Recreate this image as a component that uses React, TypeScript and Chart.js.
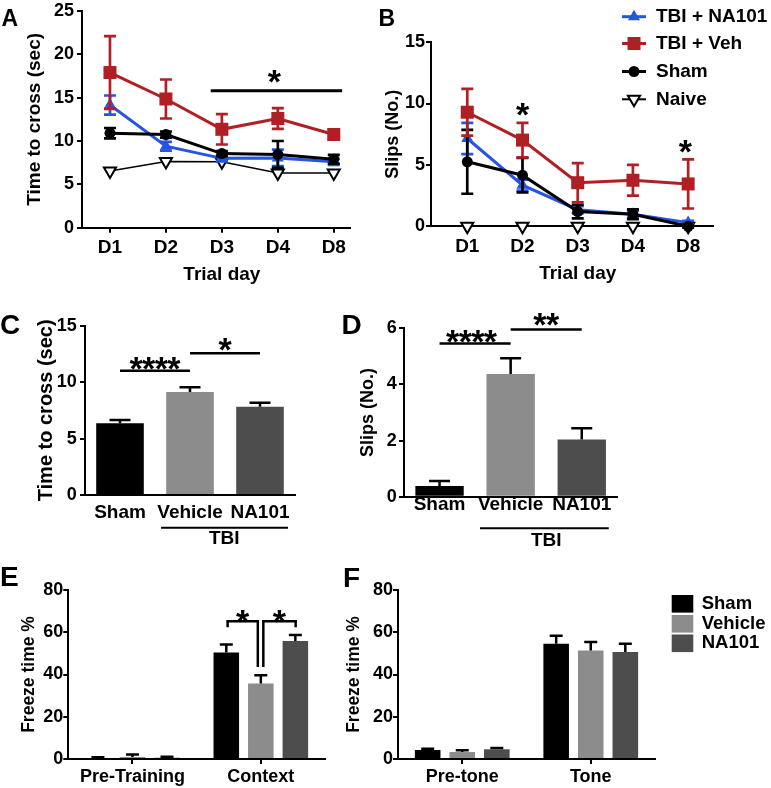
import React, { useEffect, useRef } from 'react';
import { Chart, registerables } from 'chart.js';

Chart.register(...registerables);

const FAMILY = "'Liberation Sans', Arial, Helvetica, sans-serif";
Chart.defaults.font.family = FAMILY;
Chart.defaults.font.size = 18;
Chart.defaults.font.weight = 'bold';
Chart.defaults.color = '#000';

// ---------------- data ----------------
const trialDays = ['D1', 'D2', 'D3', 'D4', 'D8'];

const crossNA101 = [14.15, 9.4, 8.0, 8.05, 7.6];
const crossNA101Err = [1.1, 0.5, 0.35, 0.95, 0.35];
const crossVeh = [17.9, 14.85, 11.35, 12.6, 10.75];
const crossVehErr = [4.2, 2.25, 1.75, 1.2, 0.6];
const crossSham = [10.9, 10.75, 8.55, 8.45, 7.9];
const crossShamErr = [0.6, 0.35, 0.3, 1.55, 0.5];
const crossNaive = [6.55, 7.65, 7.6, 6.3, 6.3];

const slipNA101 = [7.15, 3.35, 1.35, 0.98, 0.3];
const slipNA101Err = [1.27, 0.45, 0.3, 0.3, 0.15];
const slipVeh = [9.29, 7.02, 3.55, 3.75, 3.45];
const slipVehErr = [1.9, 1.4, 1.6, 1.25, 2.0];
const slipSham = [5.25, 4.16, 1.2, 0.98, 0.0];
const slipShamErr = [2.6, 1.4, 0.55, 0.4, 0.1];
const slipNaive = [0, 0, 0, 0, 0];

const seriesNames = ['TBI + NA101', 'TBI + Veh', 'Sham', 'Naive'];

const groups = ['Sham', 'Vehicle', 'NA101'];
const meanCross = [6.35, 9.12, 7.82];
const meanCrossErr = [0.3, 0.42, 0.35];
const meanSlips = [0.38, 4.37, 2.04];
const meanSlipsErr = [0.18, 0.56, 0.4];

const contextPhases = ['Pre-Training', 'Context'];
const ctxSham = [0.5, 50.4];
const ctxShamErr = [0.3, 3.8];
const ctxVeh = [1.0, 35.7];
const ctxVehErr = [1.1, 4.0];
const ctxNA101 = [0.6, 55.8];
const ctxNA101Err = [0.5, 2.9];

const tonePhases = ['Pre-tone', 'Tone'];
const toneSham = [4.25, 54.5];
const toneShamErr = [0.6, 3.8];
const toneVeh = [3.3, 51.4];
const toneVehErr = [0.8, 4.0];
const toneNA101 = [4.6, 50.6];
const toneNA101Err = [0.6, 3.9];

// ---------------- styles ----------------
const RED = '#B01F24';
const BLUE = '#2455E4';
const BLACK = '#000000';
const BAR_COLORS = ['#000000', '#8C8C8C', '#4D4D4D'];

type Box = { x: number; y: number; w: number; h: number };
type Area = { l: number; t: number; r: number; b: number };

const BOX_A: Box = { x: 0, y: -20, w: 380, h: 330 };
const AREA_A: Area = { l: 82, t: 11, r: 350, b: 227.7 };
const BOX_B: Box = { x: 380, y: -20, w: 391, h: 330 };
const AREA_B: Area = { l: 431, t: 42.1, r: 713, b: 226.3 };
const BOX_C: Box = { x: 0, y: 290, w: 340, h: 300 };
const AREA_C: Area = { l: 85, t: 325.7, r: 295, b: 495 };
const BOX_D: Box = { x: 340, y: 290, w: 431, h: 300 };
const AREA_D: Area = { l: 404, t: 328.3, r: 617.3, b: 496.7 };
const BOX_E: Box = { x: 0, y: 560, w: 340, h: 228 };
const AREA_E: Area = { l: 68.3, t: 590, r: 325, b: 759 };
const BOX_F: Box = { x: 340, y: 560, w: 431, h: 228 };
const AREA_F: Area = { l: 398, t: 590, r: 655, b: 759 };

function frame(box: Box, area: Area, yTitleX: number, titleSize: number, xH: number) {
  const yLeft = yTitleX - titleSize * 0.6;
  return {
    padding: {
      left: yLeft - box.x,
      top: area.t - box.y,
      right: box.x + box.w - area.r,
      bottom: box.y + box.h - area.b - xH,
    },
    yW: area.l - yLeft,
    xH,
  };
}

function yAxis(min: number, max: number, step: number, title: string, titleSize: number, yW: number, pad: number, tickSize = 18) {
  return {
    type: 'linear',
    min,
    max,
    ticks: { stepSize: step, padding: pad, color: BLACK, font: { size: tickSize, weight: 'bold', family: FAMILY } },
    grid: { display: true, drawOnChartArea: false, drawTicks: true, tickLength: 5, color: BLACK, lineWidth: 2 },
    border: { display: true, color: BLACK, width: 2 },
    title: { display: true, text: title, color: BLACK, padding: 0, font: { size: titleSize, weight: 'bold', family: FAMILY } },
    afterFit: (s: any) => {
      s.width = yW;
    },
  };
}

function xDays(min: number, max: number, xH: number, pad: number) {
  return {
    type: 'linear',
    min,
    max,
    afterBuildTicks: (s: any) => {
      s.ticks = trialDays.map((_, i) => ({ value: i }));
    },
    ticks: {
      callback: (v: any) => trialDays[Number(v)] ?? '',
      padding: pad,
      autoSkip: false,
      maxRotation: 0,
      color: BLACK,
      font: { size: 19, weight: 'bold', family: FAMILY },
    },
    grid: { display: true, drawOnChartArea: false, drawTicks: true, tickLength: 5, color: BLACK, lineWidth: 2 },
    border: { display: true, color: BLACK, width: 2 },
    afterFit: (s: any) => {
      s.height = xH;
    },
  };
}

function xCat(xH: number, pad: number, tickMarks: boolean, size: number) {
  return {
    type: 'category',
    offset: true,
    ticks: { padding: pad, color: BLACK, autoSkip: false, maxRotation: 0, font: { size, weight: 'bold', family: FAMILY } },
    grid: {
      display: tickMarks,
      drawOnChartArea: false,
      drawTicks: tickMarks,
      tickLength: 5,
      offset: false,
      color: BLACK,
      lineWidth: 2,
    },
    border: { display: true, color: BLACK, width: 2 },
    afterFit: (s: any) => {
      s.height = xH;
    },
  };
}

const baseOptions = {
  responsive: false,
  animation: false,
  devicePixelRatio: 1,
  events: [],
  plugins: { legend: { display: false }, tooltip: { enabled: false } },
};

// ---------------- drawing helpers ----------------
function seg(ctx: any, x1: number, y1: number, x2: number, y2: number, w = 2.5) {
  ctx.save();
  ctx.strokeStyle = BLACK;
  ctx.lineWidth = w;
  ctx.beginPath();
  ctx.moveTo(x1, y1);
  ctx.lineTo(x2, y2);
  ctx.stroke();
  ctx.restore();
}

function label(ctx: any, s: string, x: number, y: number, size: number, align = 'center') {
  ctx.save();
  ctx.font = `bold ${size}px ${FAMILY}`;
  ctx.fillStyle = BLACK;
  ctx.textAlign = align;
  ctx.textBaseline = 'middle';
  ctx.fillText(s, x, y);
  ctx.restore();
}

function stars(ctx: any, s: string, x: number, yc: number, size = 34) {
  ctx.save();
  ctx.font = `bold ${size}px ${FAMILY}`;
  ctx.fillStyle = BLACK;
  ctx.textAlign = 'center';
  ctx.textBaseline = 'alphabetic';
  const step = 12.6;
  const n = s.length;
  for (let i = 0; i < n; i++) {
    ctx.fillText('*', x + (i - (n - 1) / 2) * step, yc + 0.575 * size);
  }
  ctx.restore();
}

function marker(ctx: any, shape: string, x: number, y: number, color: string) {
  ctx.save();
  ctx.beginPath();
  if (shape === 'rect') {
    ctx.rect(x - 6.5, y - 6.5, 13, 13);
    ctx.fillStyle = color;
    ctx.fill();
  } else if (shape === 'circle') {
    ctx.arc(x, y, 5.5, 0, Math.PI * 2);
    ctx.fillStyle = color;
    ctx.fill();
  } else if (shape === 'triUp') {
    const r = 7;
    ctx.moveTo(x, y - r);
    ctx.lineTo(x + r * 0.866, y + r / 2);
    ctx.lineTo(x - r * 0.866, y + r / 2);
    ctx.closePath();
    ctx.fillStyle = color;
    ctx.fill();
  } else {
    const r = 7;
    ctx.moveTo(x, y + r);
    ctx.lineTo(x + r * 0.866, y - r / 2);
    ctx.lineTo(x - r * 0.866, y - r / 2);
    ctx.closePath();
    ctx.fillStyle = '#fff';
    ctx.fill();
    ctx.lineWidth = 2;
    ctx.strokeStyle = color;
    ctx.stroke();
  }
  ctx.restore();
}

function drawErrors(chart: any, index: number) {
  const ds = chart.data.datasets[index];
  if (!ds.errors) return;
  const meta = chart.getDatasetMeta(index);
  const ys = chart.scales.y;
  const ctx = chart.ctx;
  ctx.save();
  ctx.strokeStyle = ds.errorColor || BLACK;
  ctx.lineWidth = ds.errorWidth || 2.5;
  meta.data.forEach((el: any, i: number) => {
    const raw = ds.data[i];
    const v = typeof raw === 'number' ? raw : raw.y;
    const e = ds.errors[i];
    if (!e) return;
    const x = el.x;
    const top = ys.getPixelForValue(v + e);
    const bot = ds.errorUpOnly ? ys.getPixelForValue(v) : ys.getPixelForValue(v - e);
    const cw = (ds.capWidth || 12) / 2;
    ctx.beginPath();
    ctx.moveTo(x, bot);
    ctx.lineTo(x, top);
    ctx.moveTo(x - cw, top);
    ctx.lineTo(x + cw, top);
    if (!ds.errorUpOnly) {
      ctx.moveTo(x - cw, bot);
      ctx.lineTo(x + cw, bot);
    }
    ctx.stroke();
  });
  ctx.restore();
}

const errorBars = {
  id: 'errorBars',
  beforeDatasetDraw(chart: any, args: any) {
    if (chart.config.type === 'line') drawErrors(chart, args.index);
  },
  afterDatasetDraw(chart: any, args: any) {
    if (chart.config.type === 'bar') drawErrors(chart, args.index);
  },
};

// ---------------- line panels ----------------
function lineDatasets(na: number[], naErr: number[], veh: number[], vehErr: number[], sham: number[], shamErr: number[], naive: number[]) {
  const pts = (arr: number[]) => arr.map((y, i) => ({ x: i, y }));
  return [
    {
      label: seriesNames[1],
      data: pts(veh),
      errors: vehErr,
      errorColor: RED,
      capWidth: 12,
      errorWidth: 2.7,
      borderColor: RED,
      backgroundColor: RED,
      borderWidth: 3,
      pointStyle: 'rect',
      pointRadius: 9.2,
      pointBorderWidth: 0,
      pointBackgroundColor: RED,
      clip: false,
    },
    {
      label: seriesNames[2],
      data: pts(sham),
      errors: shamErr,
      errorColor: BLACK,
      capWidth: 12,
      errorWidth: 2.7,
      borderColor: BLACK,
      backgroundColor: BLACK,
      borderWidth: 3,
      pointStyle: 'circle',
      pointRadius: 5.5,
      pointBorderWidth: 0,
      pointBackgroundColor: BLACK,
      clip: false,
    },
    {
      label: seriesNames[0],
      data: pts(na),
      errors: naErr,
      errorColor: BLUE,
      capWidth: 12,
      errorWidth: 2.7,
      borderColor: BLUE,
      backgroundColor: BLUE,
      borderWidth: 3,
      pointStyle: 'triangle',
      pointRadius: 7,
      pointBorderWidth: 0,
      pointBackgroundColor: BLUE,
      clip: false,
    },
    {
      label: seriesNames[3],
      data: pts(naive),
      borderColor: BLACK,
      backgroundColor: '#fff',
      borderWidth: 1.5,
      pointStyle: 'triangle',
      pointRotation: 180,
      pointRadius: 7,
      pointBorderWidth: 2,
      pointBorderColor: BLACK,
      pointBackgroundColor: '#fff',
      clip: false,
    },
  ];
}

function configA() {
  const f = frame(BOX_A, AREA_A, 35, 19, 50);
  return {
    type: 'line',
    data: { datasets: lineDatasets(crossNA101, crossNA101Err, crossVeh, crossVehErr, crossSham, crossShamErr, crossNaive) },
    options: {
      ...baseOptions,
      layout: { padding: f.padding },
      scales: {
        x: xDays(-0.5, 4.29, f.xH, 3.9),
        y: yAxis(0, 25, 5, 'Time to cross (sec)', 19, f.yW, 3),
      },
    },
    plugins: [
      errorBars,
      {
        id: 'annA',
        afterDraw(c: any) {
          const ctx = c.ctx;
          const x = c.scales.x;
          const y = c.scales.y;
          seg(ctx, x.getPixelForValue(1.8), y.getPixelForValue(15.8), x.getPixelForValue(4.15), y.getPixelForValue(15.8), 2.8);
          stars(ctx, '*', x.getPixelForValue(2.94), y.getPixelForValue(17.8));
          label(ctx, 'Trial day', x.getPixelForValue(2), c.chartArea.bottom + 47.5, 19);
        },
      },
    ],
  };
}

function configB() {
  const f = frame(BOX_B, AREA_B, 393.5, 18, 50);
  const legendShapes = ['triUp', 'rect', 'circle', 'triDown'];
  const legendColors = [BLUE, RED, BLACK, BLACK];
  const legendRows = [16.7, 43.5, 71.5, 99.3];
  return {
    type: 'line',
    data: { datasets: lineDatasets(slipNA101, slipNA101Err, slipVeh, slipVehErr, slipSham, slipShamErr, slipNaive) },
    options: {
      ...baseOptions,
      layout: { padding: f.padding },
      scales: {
        x: xDays(-0.657, 4.45, f.xH, 4.0),
        y: yAxis(0, 15, 5, 'Slips (No.)', 18, f.yW, 1),
      },
    },
    plugins: [
      errorBars,
      {
        id: 'annB',
        afterDraw(c: any) {
          const ctx = c.ctx;
          const x = c.scales.x;
          const y = c.scales.y;
          stars(ctx, '*', x.getPixelForValue(1), y.getPixelForValue(9.74));
          stars(ctx, '*', x.getPixelForValue(3.95), y.getPixelForValue(6.76));
          label(ctx, 'Trial day', x.getPixelForValue(2), c.chartArea.bottom + 47.5, 19);
          // legend
          ctx.save();
          ctx.translate(-BOX_B.x, -BOX_B.y);
          seriesNames.forEach((name, i) => {
            const yy = legendRows[i];
            ctx.save();
            ctx.strokeStyle = legendColors[i];
            ctx.lineWidth = i === 3 ? 2 : 3;
            ctx.beginPath();
            ctx.moveTo(622, yy);
            ctx.lineTo(646, yy);
            ctx.stroke();
            ctx.restore();
            marker(ctx, legendShapes[i], 634, yy, legendColors[i]);
            label(ctx, name, 656, yy, 19, 'left');
          });
          ctx.restore();
        },
      },
    ],
  };
}

// ---------------- bar panels ----------------
function configC() {
  const f = frame(BOX_C, AREA_C, 46, 20, 50);
  return {
    type: 'bar',
    data: {
      labels: groups,
      datasets: [
        {
          data: meanCross,
          backgroundColor: BAR_COLORS,
          errors: meanCrossErr,
          errorUpOnly: true,
          capWidth: 21,
          errorWidth: 2.5,
          barPercentage: 0.68,
          categoryPercentage: 1,
        },
      ],
    },
    options: {
      ...baseOptions,
      layout: { padding: f.padding },
      scales: {
        x: xCat(f.xH, 6.3, false, 19),
        y: yAxis(0, 15, 5, 'Time to cross (sec)', 20, f.yW, 3.3),
      },
    },
    plugins: [
      errorBars,
      {
        id: 'annC',
        afterDraw(c: any) {
          const ctx = c.ctx;
          const x = c.scales.x;
          const y = c.scales.y;
          seg(ctx, x.getPixelForValue(0), y.getPixelForValue(11), x.getPixelForValue(1), y.getPixelForValue(11), 2.5);
          seg(ctx, x.getPixelForValue(1), y.getPixelForValue(12.55), x.getPixelForValue(2), y.getPixelForValue(12.55), 2.5);
          stars(ctx, '****', x.getPixelForValue(0.5), y.getPixelForValue(11.9));
          stars(ctx, '*', x.getPixelForValue(1.5), y.getPixelForValue(13.6));
          const b = c.chartArea.bottom;
          seg(ctx, x.getPixelForValue(0.586), b + 32.7, x.getPixelForValue(2.4), b + 32.7, 2);
          label(ctx, 'TBI', x.getPixelForValue(1.49), b + 44, 19);
        },
      },
    ],
  };
}

function configD() {
  const f = frame(BOX_D, AREA_D, 368.5, 18, 50);
  return {
    type: 'bar',
    data: {
      labels: groups,
      datasets: [
        {
          data: meanSlips,
          backgroundColor: BAR_COLORS,
          errors: meanSlipsErr,
          errorUpOnly: true,
          capWidth: 21,
          errorWidth: 2.5,
          barPercentage: 0.68,
          categoryPercentage: 1,
        },
      ],
    },
    options: {
      ...baseOptions,
      layout: { padding: f.padding },
      scales: {
        x: xCat(f.xH, -3.1, false, 19),
        y: yAxis(0, 6, 2, 'Slips (No.)', 18, f.yW, 2.3),
      },
    },
    plugins: [
      errorBars,
      {
        id: 'annD',
        afterDraw(c: any) {
          const ctx = c.ctx;
          const x = c.scales.x;
          const y = c.scales.y;
          seg(ctx, x.getPixelForValue(0), y.getPixelForValue(5.46), x.getPixelForValue(1), y.getPixelForValue(5.46), 2.5);
          seg(ctx, x.getPixelForValue(1), y.getPixelForValue(5.96), x.getPixelForValue(2), y.getPixelForValue(5.96), 2.5);
          stars(ctx, '****', x.getPixelForValue(0.45), y.getPixelForValue(5.82));
          stars(ctx, '**', x.getPixelForValue(1.5), y.getPixelForValue(6.44));
          const b = c.chartArea.bottom;
          seg(ctx, x.getPixelForValue(0.569), b + 31.6, x.getPixelForValue(2.38), b + 31.6, 2);
          label(ctx, 'TBI', x.getPixelForValue(1.5), b + 44, 19);
        },
      },
    ],
  };
}

function groupedDatasets(sham: number[], shamErr: number[], veh: number[], vehErr: number[], na: number[], naErr: number[]) {
  const common = { errorUpOnly: true, capWidth: 13, errorWidth: 2.5, barPercentage: 0.74, categoryPercentage: 0.807 };
  return [
    { label: groups[0], data: sham, errors: shamErr, backgroundColor: BAR_COLORS[0], ...common },
    { label: groups[1], data: veh, errors: vehErr, backgroundColor: BAR_COLORS[1], ...common },
    { label: groups[2], data: na, errors: naErr, backgroundColor: BAR_COLORS[2], ...common },
  ];
}

function configE() {
  const f = frame(BOX_E, AREA_E, 29.2, 17.5, 28);
  return {
    type: 'bar',
    data: { labels: contextPhases, datasets: groupedDatasets(ctxSham, ctxShamErr, ctxVeh, ctxVehErr, ctxNA101, ctxNA101Err) },
    options: {
      ...baseOptions,
      layout: { padding: f.padding },
      scales: {
        x: xCat(f.xH, 1.9, true, 18),
        y: yAxis(0, 80, 20, 'Freeze time %', 17.5, f.yW, 0),
      },
    },
    plugins: [
      errorBars,
      {
        id: 'annE',
        afterDraw(c: any) {
          const ctx = c.ctx;
          const y = c.scales.y;
          const xs = [0, 1, 2].map((d) => c.getDatasetMeta(d).data[1].x);
          const top = y.getPixelForValue(65.2);
          const shortLeg = top + 6;
          const longLeg = y.getPixelForValue(43.6);
          const l1 = xs[0] + 1.3;
          const r1 = xs[1] - 3;
          const l2 = xs[1] + 2.5;
          const r2 = xs[2] + 0.3;
          ctx.save();
          ctx.strokeStyle = BLACK;
          ctx.lineWidth = 2.5;
          ctx.beginPath();
          ctx.moveTo(l1, shortLeg);
          ctx.lineTo(l1, top);
          ctx.lineTo(r1, top);
          ctx.lineTo(r1, longLeg);
          ctx.moveTo(l2, longLeg);
          ctx.lineTo(l2, top);
          ctx.lineTo(r2, top);
          ctx.lineTo(r2, shortLeg);
          ctx.stroke();
          ctx.restore();
          const sy = y.getPixelForValue(68.9);
          stars(ctx, '*', (l1 + r1) / 2, sy);
          stars(ctx, '*', (l2 + r2) / 2, sy);
        },
      },
    ],
  };
}

function configF() {
  const f = frame(BOX_F, AREA_F, 354, 17.5, 28);
  const rows = [603.8, 623.8, 643.3];
  return {
    type: 'bar',
    data: { labels: tonePhases, datasets: groupedDatasets(toneSham, toneShamErr, toneVeh, toneVehErr, toneNA101, toneNA101Err) },
    options: {
      ...baseOptions,
      layout: { padding: f.padding },
      scales: {
        x: xCat(f.xH, 1.9, true, 18),
        y: yAxis(0, 80, 20, 'Freeze time %', 17.5, f.yW, 0),
      },
    },
    plugins: [
      errorBars,
      {
        id: 'legendF',
        afterDraw(c: any) {
          const ctx = c.ctx;
          ctx.save();
          ctx.translate(-BOX_F.x, -BOX_F.y);
          groups.forEach((g, i) => {
            ctx.fillStyle = BAR_COLORS[i];
            ctx.fillRect(671.7, rows[i] - 8.8, 21.6, 17.6);
            label(ctx, g, 701.7, rows[i], 18.5, 'left');
          });
          ctx.restore();
        },
      },
    ],
  };
}

// ---------------- components ----------------
function ChartPanel({ box, make }: { box: Box; make: () => any }) {
  const ref = useRef<HTMLCanvasElement | null>(null);
  useEffect(() => {
    if (!ref.current) return;
    const chart = new Chart(ref.current, make());
    return () => chart.destroy();
  }, []);
  return (
    <canvas
      ref={ref}
      width={box.w}
      height={box.h}
      style={{ position: 'absolute', left: box.x, top: box.y, width: box.w, height: box.h }}
    />
  );
}

const letterStyle = (x: number, y: number, size: number): React.CSSProperties => ({
  position: 'absolute',
  left: x,
  top: y,
  fontFamily: FAMILY,
  fontWeight: 'bold',
  fontSize: size,
  lineHeight: 1,
  color: '#000',
});

export default function App() {
  return (
    <div style={{ position: 'absolute', left: 0, top: 0, width: 771, height: 788, overflow: 'hidden', background: '#fff' }}>
      <ChartPanel box={BOX_A} make={configA} />
      <ChartPanel box={BOX_B} make={configB} />
      <ChartPanel box={BOX_C} make={configC} />
      <ChartPanel box={BOX_D} make={configD} />
      <ChartPanel box={BOX_E} make={configE} />
      <ChartPanel box={BOX_F} make={configF} />
      <div style={letterStyle(1.5, 7, 23)}>A</div>
      <div style={letterStyle(378.5, 7, 23)}>B</div>
      <div style={letterStyle(0, 311.3, 28)}>C</div>
      <div style={letterStyle(341.5, 311.3, 28)}>D</div>
      <div style={letterStyle(0, 563, 28)}>E</div>
      <div style={letterStyle(343, 564.3, 28)}>F</div>
    </div>
  );
}
